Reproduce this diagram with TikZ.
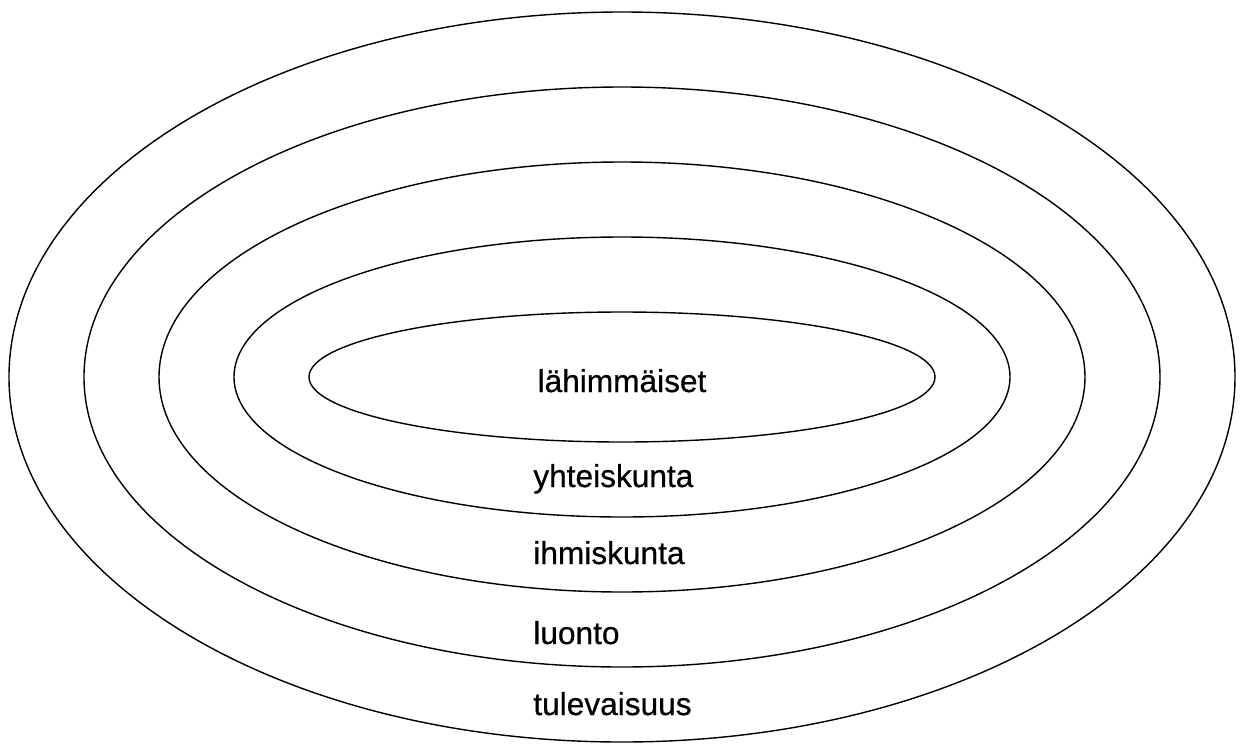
\documentclass[tikz,border=0pt]{standalone}
\usepackage{fontspec}
\setmainfont{Liberation Sans}
\newfontfamily\labelfont{Liberation Sans}[UprightFeatures={FakeBold=0.6}]
\usetikzlibrary{shapes.geometric,positioning}

\begin{document}
\begin{tikzpicture}[
        ring/.style={ellipse, draw=black, line width=0.8pt, inner sep=0pt},
        lbl/.style={anchor=base west, inner sep=0pt, font=\fontsize{18}{20}\labelfont}
    ]
        \useasboundingbox (-12.44,-7.40) rectangle (12.42,7.54);

        % Rings, innermost first
        \foreach \i in {0,...,4} {
            \node[ring, minimum width={2*(6.26cm+\i*1.5cm)}, minimum height={2*(1.3cm+\i*1.5cm)}] (ring\i) at (0,0) {};
        }

        % Labels
        \node[lbl, anchor=base] (close) at (0,-0.30) {lähimmäiset};
        \node[lbl] (society) at (-1.78,-2.20) {yhteiskunta};
        \node[lbl] (mankind) at (-1.78,-3.74) {ihmiskunta};
        \node[lbl] (nature) at (-1.78,-5.34) {luonto};
        \node[lbl] (future) at (-1.78,-6.76) {tulevaisuus};

    \end{tikzpicture}
\end{document}
